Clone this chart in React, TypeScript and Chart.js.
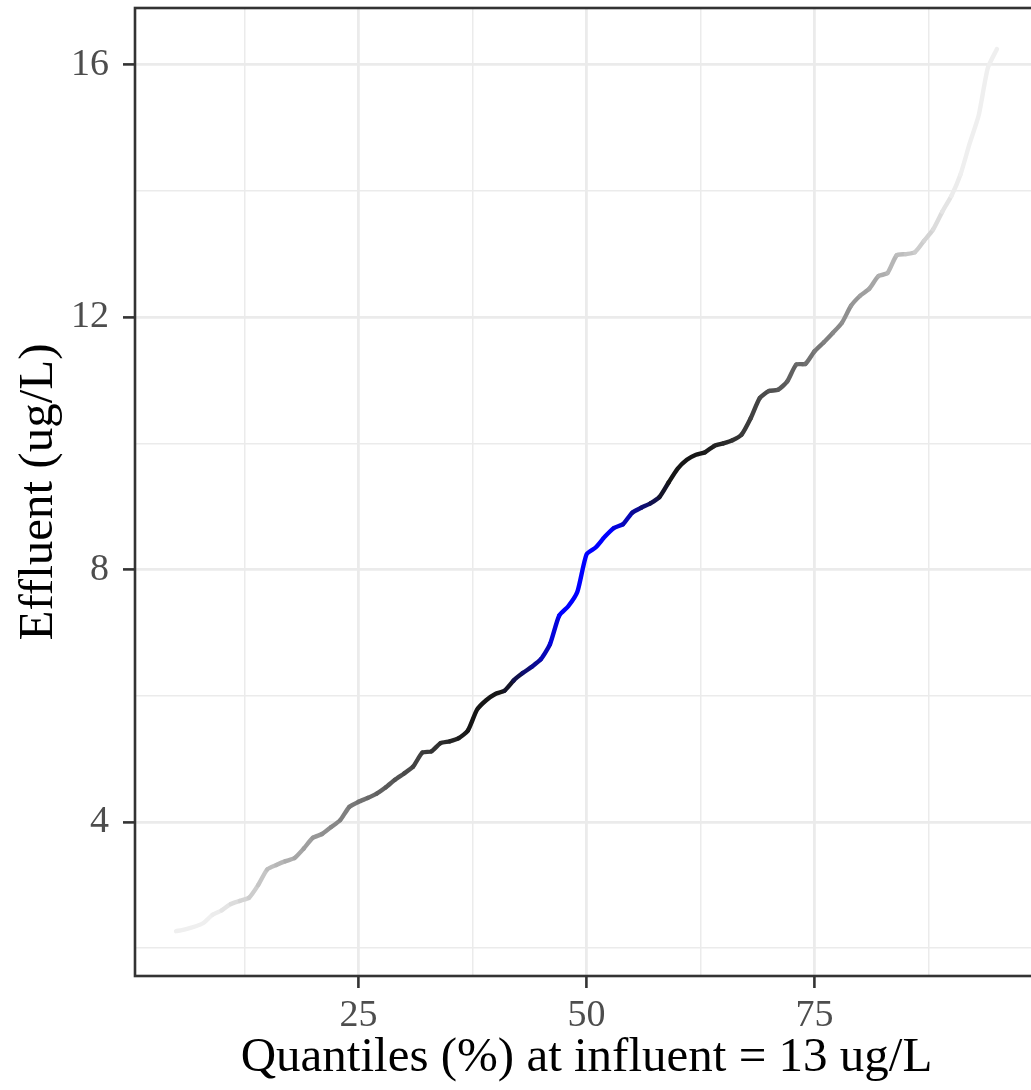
import React, { useEffect, useRef } from "react";
import { Chart, registerables } from "chart.js";

Chart.register(...registerables);

const quantiles: number[] = [
  5, 6, 7, 8, 9, 10, 11, 12, 13, 14, 15, 16, 17, 18, 19, 20, 21, 22, 23, 24, 25,
  26, 27, 28, 29, 30, 31, 32, 33, 34, 35, 36, 37, 38, 39, 40, 41, 42, 43, 44, 45,
  46, 47, 48, 49, 50, 51, 52, 53, 54, 55, 56, 57, 58, 59, 60, 61, 62, 63, 64, 65,
  66, 67, 68, 69, 70, 71, 72, 73, 74, 75, 76, 77, 78, 79, 80, 81, 82, 83, 84, 85,
  86, 87, 88, 89, 90, 91, 92, 93, 94, 95,
];

const effluent: number[] = [
  2.27, 2.3, 2.34, 2.4, 2.53, 2.6, 2.7, 2.75, 2.8, 3.0, 3.25, 3.32, 3.38, 3.43, 3.58,
  3.75, 3.81, 3.92, 4.03, 4.24, 4.32, 4.38, 4.45, 4.55, 4.67, 4.77, 4.88, 5.1, 5.12,
  5.25, 5.28, 5.33, 5.45, 5.78, 5.93, 6.03, 6.08, 6.24, 6.36, 6.46, 6.58, 6.82, 7.27,
  7.42, 7.65, 8.24, 8.35, 8.52, 8.66, 8.72, 8.9, 8.98, 9.05, 9.15, 9.38, 9.6, 9.74,
  9.82, 9.86, 9.96, 10.0, 10.05, 10.14, 10.4, 10.72, 10.83, 10.85, 10.98, 11.25,
  11.26, 11.46, 11.6, 11.75, 11.91, 12.18, 12.34, 12.45, 12.65, 12.7, 12.98, 13.0,
  13.03, 13.21, 13.39, 13.67, 13.92, 14.26, 14.75, 15.2, 15.95, 16.25,
];

const xTicks: number[] = [12.5, 25, 37.5, 50, 62.5, 75, 87.5];
const xLabels: number[] = [25, 50, 75];
const yTicks: number[] = [2, 4, 6, 8, 10, 12, 14, 16];
const yLabels: number[] = [4, 8, 12, 16];

const xTitle = "Quantiles (%) at influent = 13 ug/L";
const yTitle = "Effluent (ug/L)";
const centerQuantile = 50;

function colorFor(q: number): string {
  const d = Math.abs(q - centerQuantile);
  const alpha = Math.min(1, Math.max(0.07, 1.42 - 0.033 * d));
  let b = 0;
  if (d <= 2.5) b = 1;
  else if (d < 9) b = 1 - (d - 2.5) / 6.5;
  const base = [22 * (1 - b), 22 * (1 - b), 22 * (1 - b) + 255 * b];
  const mix = (c: number) => Math.round(c * alpha + 255 * (1 - alpha));
  return `rgb(${mix(base[0])},${mix(base[1])},${mix(base[2])})`;
}

const borderPlugin = {
  id: "panelBorder",
  afterDraw(chart: any) {
    const { ctx, chartArea } = chart;
    ctx.save();
    ctx.strokeStyle = "#333333";
    ctx.lineWidth = 2.6;
    ctx.strokeRect(
      chartArea.left,
      chartArea.top,
      chartArea.right - chartArea.left,
      chartArea.bottom - chartArea.top
    );
    ctx.restore();
  },
};

export default function App() {
  const ref = useRef<HTMLCanvasElement | null>(null);

  useEffect(() => {
    document.body.style.margin = "0";
    document.body.style.overflow = "hidden";
    const canvas = ref.current;
    if (!canvas) return;
    const points = quantiles.map((q, i) => ({ x: q, y: effluent[i] }));
    const tickFont = { family: "'Liberation Serif', 'Times New Roman', serif", size: 38 };
    const titleFont = { family: "'Liberation Serif', 'Times New Roman', serif", size: 49 };
    const isMajorX = (v: number) => xLabels.includes(v);
    const isMajorY = (v: number) => yLabels.includes(v);

    const chart = new Chart(canvas, {
      type: "line",
      data: {
        datasets: [
          {
            data: points,
            borderWidth: 4.4,
            pointRadius: 0,
            tension: 0.2,
            borderJoinStyle: "round",
            borderCapStyle: "round",
            segment: {
              borderColor: (ctx: any) =>
                colorFor((ctx.p0.parsed.x + ctx.p1.parsed.x) / 2),
            },
          } as any,
        ],
      },
      options: {
        animation: false,
        responsive: false,
        maintainAspectRatio: false,
        layout: { padding: { top: 8, right: 2, left: 0, bottom: 0 } },
        plugins: {
          legend: { display: false },
          tooltip: { enabled: false },
        },
        scales: {
          x: {
            type: "linear",
            min: 0.5,
            max: 99.5,
            afterBuildTicks: (scale: any) => {
              scale.ticks = xTicks.map((v) => ({ value: v }));
            },
            afterFit: (scale: any) => {
              scale.height = 114;
              scale.paddingLeft = 0;
              scale.paddingRight = 0;
            },
            border: { display: false },
            grid: {
              color: "#ebebeb",
              lineWidth: (ctx: any) => (isMajorX(ctx.tick?.value) ? 2.8 : 1.5),
              tickColor: (ctx: any) =>
                isMajorX(ctx.tick?.value) ? "#333333" : "rgba(0,0,0,0)",
              tickWidth: 2.6,
              tickLength: 12,
            } as any,
            ticks: {
              autoSkip: false,
              maxRotation: 0,
              padding: 5,
              color: "#4d4d4d",
              font: tickFont,
              callback: (v: any) => (isMajorX(Number(v)) ? String(v) : ""),
            },
            title: {
              display: true,
              text: xTitle,
              color: "#000000",
              font: titleFont,
              padding: { top: 0, bottom: 2 },
            },
          },
          y: {
            type: "linear",
            min: 1.56,
            max: 16.9,
            afterBuildTicks: (scale: any) => {
              scale.ticks = yTicks.map((v) => ({ value: v }));
            },
            afterFit: (scale: any) => {
              scale.width = 135;
              scale.paddingTop = 0;
              scale.paddingBottom = 0;
            },
            border: { display: false },
            grid: {
              color: "#ebebeb",
              lineWidth: (ctx: any) => (isMajorY(ctx.tick?.value) ? 2.8 : 1.5),
              tickColor: (ctx: any) =>
                isMajorY(ctx.tick?.value) ? "#333333" : "rgba(0,0,0,0)",
              tickWidth: 2.6,
              tickLength: 12,
            } as any,
            ticks: {
              autoSkip: false,
              padding: 14,
              color: "#4d4d4d",
              font: tickFont,
              callback: (v: any) => (isMajorY(Number(v)) ? String(v) : ""),
            },
            title: {
              display: true,
              text: yTitle,
              color: "#000000",
              font: titleFont,
              padding: { top: 10, bottom: 0 },
            },
          },
        },
      } as any,
      plugins: [borderPlugin],
    });
    return () => chart.destroy();
  }, []);

  return (
    <div style={{ position: "fixed", left: 0, top: 0, width: 1040, height: 1090 }}>
      <canvas ref={ref} width={1040} height={1090} style={{ width: 1040, height: 1090, display: "block" }} />
    </div>
  );
}
